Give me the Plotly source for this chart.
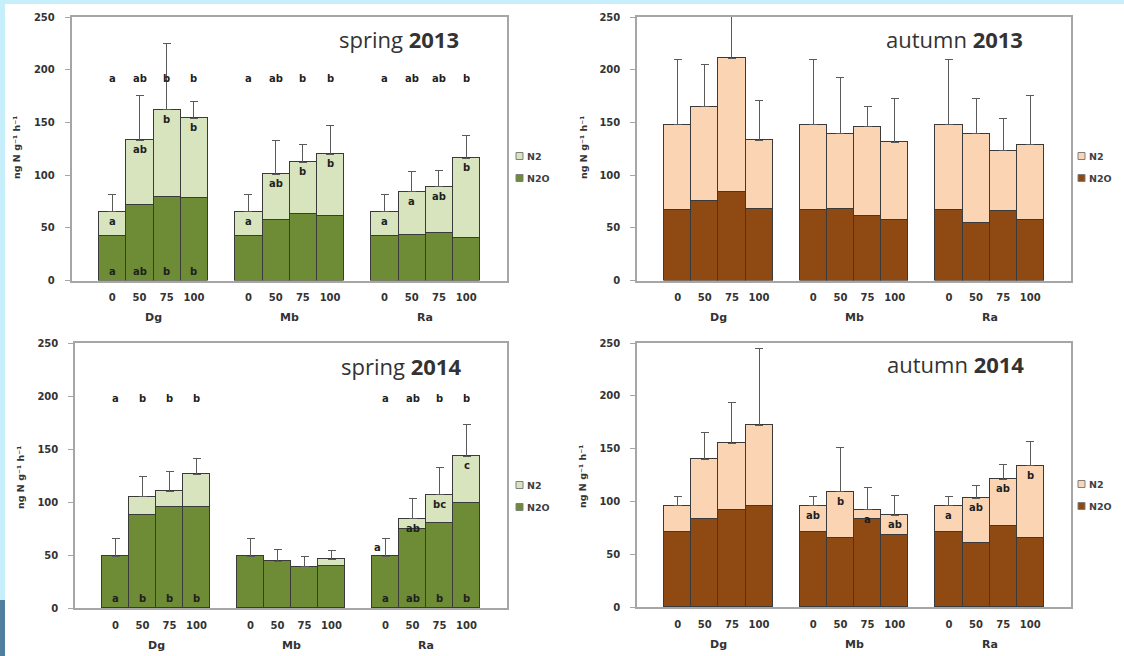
import plotly.graph_objects as go

# ---------------- data ----------------
groups = ["Dg", "Mb", "Ra"]
levels = ["0", "50", "75", "100"]

season_names = ["spring", "autumn", "spring", "autumn"]
year_names = ["2013", "2013", "2014", "2014"]

# spring 2013
n2o_sp13 = [42, 72, 79, 78, 42, 57, 63, 61, 42, 43, 45, 40]
n2_sp13 = [23, 61, 83, 76, 23, 44, 49, 59, 23, 41, 44, 76]
err_sp13 = [17, 43, 63, 16, 17, 32, 17, 27, 17, 19, 15, 22]
top_sp13 = ["a", "ab", "b", "b", "a", "ab", "b", "b", "a", "ab", "ab", "b"]
lab_n2_sp13 = ["a", "ab", "b", "b", "a", "ab", "b", "b", "a", "a", "ab", "b"]
lab_n2o_sp13 = ["a", "ab", "b", "b", "", "", "", "", "", "", "", ""]

# autumn 2013
n2o_au13 = [67, 75, 84, 68, 67, 68, 61, 57, 67, 55, 66, 57]
n2_au13 = [81, 90, 127, 65, 81, 71, 85, 74, 81, 84, 57, 72]
err_au13 = [62, 40, 50, 38, 62, 54, 19, 42, 62, 34, 31, 47]
top_au13 = [""] * 12
lab_n2_au13 = [""] * 12
lab_n2o_au13 = [""] * 12

# spring 2014
n2o_sp14 = [49, 88, 95, 95, 49, 44, 39, 40, 49, 75, 80, 99]
n2_sp14 = [0, 17, 15, 31, 0, 0, 0, 6, 0, 9, 27, 44]
err_sp14 = [17, 19, 19, 15, 17, 11, 10, 8, 17, 19, 26, 30]
top_sp14 = ["a", "b", "b", "b", "", "", "", "", "a", "ab", "b", "b"]
lab_n2_sp14 = ["", "", "", "", "", "", "", "", "a", "ab", "bc", "c"]
lab_n2o_sp14 = ["a", "b", "b", "b", "", "", "", "", "a", "ab", "b", "b"]

# autumn 2014
n2o_au14 = [71, 83, 92, 96, 71, 65, 83, 68, 71, 61, 77, 65]
n2_au14 = [25, 57, 63, 76, 25, 44, 9, 19, 25, 42, 44, 69]
err_au14 = [9, 25, 39, 73, 9, 42, 21, 19, 9, 12, 14, 23]
top_au14 = [""] * 12
lab_n2_au14 = ["", "", "", "", "ab", "b", "a", "ab", "a", "ab", "ab", "b"]
lab_n2o_au14 = [""] * 12

panels = [
    (n2o_sp13, n2_sp13, err_sp13, top_sp13, lab_n2_sp13, lab_n2o_sp13),
    (n2o_au13, n2_au13, err_au13, top_au13, lab_n2_au13, lab_n2o_au13),
    (n2o_sp14, n2_sp14, err_sp14, top_sp14, lab_n2_sp14, lab_n2o_sp14),
    (n2o_au14, n2_au14, err_au14, top_au14, lab_n2_au14, lab_n2o_au14),
]

# ---------------- style / layout ----------------
W, H = 1124, 656


def px(x):
    return x / W


def py(y):
    return 1 - y / H


boxes = [(71.5, 507, 17, 280.5), (637, 1071, 17, 280.5),
         (75, 507, 343, 608), (637, 1071, 343, 607)]
title_pos = [(399, 39), (954, 39), (401, 366), (955, 364)]
ylab_pos = [(16, 148), (583, 148), (20, 478), (582, 477)]
legend_pos = [(520, 156), (1082, 156), (520, 485), (1082, 484)]
top_letter_y = [192, None, 198, None]

colors = {
    "spring": ("#6E8B35", "#D7E4BD"),
    "autumn": ("#8E4A12", "#FBD4B4"),
}
outline = "#3a3a3a"
axis_col = "#a6a6a6"
txt_col = "#333333"
FONT = "DejaVu Sans"

xs = [1 + g * 5 + i for g in range(len(groups)) for i in range(len(levels))]
ticktext = levels * len(groups)

fig = go.Figure()
annotations = []
shapes = [dict(type="rect", xref="paper", yref="paper", x0=px(5), x1=1.0,
               y0=0, y1=py(4), fillcolor="white", line=dict(width=0), layer="below"),
          dict(type="rect", xref="paper", yref="paper", x0=0, x1=px(5),
               y0=0, y1=py(600), fillcolor="#4f7f9c", line=dict(width=0), layer="below")]
layout = {}

for k, (n2o, n2, err, top, lab2, lab2o) in enumerate(panels):
    idx = "" if k == 0 else str(k + 1)
    xa, ya = "x" + idx, "y" + idx
    dark, light = colors[season_names[k]]
    fig.add_trace(go.Bar(x=xs, y=n2o, width=1, name="N2O", xaxis=xa, yaxis=ya,
                         marker=dict(color=dark, line=dict(color=outline, width=1)),
                         showlegend=False, hoverinfo="skip"))
    fig.add_trace(go.Bar(x=xs, y=n2, width=1, name="N2", xaxis=xa, yaxis=ya,
                         marker=dict(color=light, line=dict(color=outline, width=1)),
                         error_y=dict(type="data", symmetric=False, array=err,
                                      arrayminus=[0] * len(err), color="#5a5a5a",
                                      thickness=1, width=4),
                         showlegend=False, hoverinfo="skip"))
    x0, x1, y0, y1 = boxes[k]
    layout["xaxis" + idx] = dict(
        domain=[px(x0), px(x1)], anchor=ya, range=[-0.5, 15.5],
        tickvals=xs, ticktext=ticktext, ticks="", showgrid=False, zeroline=False,
        showline=True, mirror=True, linecolor=axis_col, linewidth=1.5,
        tickfont=dict(family=FONT, size=10, color=txt_col, weight="bold"),
        ticklabelstandoff=7, fixedrange=True, automargin=False)
    layout["yaxis" + idx] = dict(
        domain=[py(y1), py(y0)], anchor=xa, range=[0, 250], dtick=50,
        ticks="outside", ticklen=5, tickcolor=axis_col, showgrid=False,
        zeroline=False, showline=True, mirror=True, linecolor=axis_col,
        linewidth=1.5, ticklabelstandoff=8,
        tickfont=dict(family=FONT, size=10, color=txt_col, weight="bold"),
        fixedrange=True, automargin=False)

    # group labels
    for g, name in enumerate(groups):
        annotations.append(dict(x=xs[g * 4 + 1] + 0.5, y=0, xref=xa, yref=ya,
                                text=name, showarrow=False, yanchor="middle",
                                yshift=-37,
                                font=dict(family=FONT, size=11, color=txt_col,
                                          weight="bold")))
    # title
    tx, ty = title_pos[k]
    annotations.append(dict(x=px(tx), y=py(ty), xref="paper", yref="paper",
                            text=f"{season_names[k]} <b>{year_names[k]}</b>",
                            showarrow=False, xanchor="center", yanchor="middle",
                            font=dict(family="Open Sans", size=22, color=txt_col)))
    # y label
    lx, ly = ylab_pos[k]
    annotations.append(dict(x=px(lx), y=py(ly), xref="paper", yref="paper",
                            text="ng N g\u207b\u00b9 h\u207b\u00b9", textangle=-90,
                            showarrow=False, xanchor="center", yanchor="middle",
                            font=dict(family=FONT, size=9.5, color=txt_col,
                                      weight="bold")))
    # legend (custom)
    gx, gy = legend_pos[k]
    for j, (lbl, col) in enumerate([("N2", light), ("N2O", dark)]):
        cy = gy + j * 22
        shapes.append(dict(type="rect", xref="paper", yref="paper",
                           x0=px(gx - 4), x1=px(gx + 3), y0=py(cy + 3.5), y1=py(cy - 3.5),
                           fillcolor=col, line=dict(color="#7f7f7f", width=1)))
        annotations.append(dict(x=px(gx + 5), y=py(cy), xref="paper", yref="paper",
                                text=lbl, showarrow=False, xanchor="left",
                                yanchor="middle",
                                font=dict(family=FONT, size=9.5, color="#404040",
                                          weight="bold")))
    # significance letters
    lfont = dict(family=FONT, size=10, color="#1f1f1f", weight="bold")
    for i, x in enumerate(xs):
        total = n2o[i] + n2[i]
        if top[i] and top_letter_y[k] is not None:
            annotations.append(dict(x=x, y=top_letter_y[k], xref=xa, yref=ya,
                                    text=top[i], showarrow=False, font=lfont))
        if lab2[i]:
            if n2[i] < 5:
                annotations.append(dict(x=x, y=total, xref=xa, yref=ya, text=lab2[i],
                                        showarrow=False, yanchor="bottom", xshift=-8,
                                        yshift=1, font=lfont))
            else:
                annotations.append(dict(x=x, y=total, xref=xa, yref=ya, text=lab2[i],
                                        showarrow=False, yanchor="top", yshift=-2,
                                        font=lfont))
        if lab2o[i]:
            annotations.append(dict(x=x, y=0, xref=xa, yref=ya, text=lab2o[i],
                                    showarrow=False, yanchor="bottom", yshift=2,
                                    font=lfont))

fig.update_layout(
    width=W, height=H, autosize=False,
    margin=dict(l=0, r=0, t=0, b=0, pad=0, autoexpand=False),
    paper_bgcolor="#c6eefb", plot_bgcolor="white",
    barmode="stack", bargap=0,
    showlegend=False,
    annotations=annotations, shapes=shapes,
    **layout,
)

fig.write_html("out.html",
               config={"displayModeBar": False},
               post_script="document.body.style.margin='0';"
                           "document.body.style.padding='0';"
                           "document.body.style.overflow='hidden';")
